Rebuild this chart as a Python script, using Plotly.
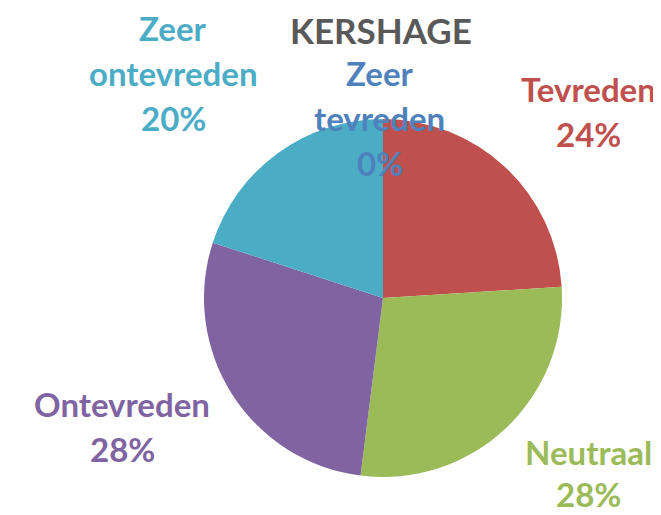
import plotly.graph_objects as go

# Data
title_text = "KERSHAGE"
labels = ["Zeer tevreden", "Tevreden", "Neutraal", "Ontevreden", "Zeer ontevreden"]
values = [0, 24, 28, 28, 20]
colors = ["#4F81BD", "#C0504D", "#9BBB59", "#8064A2", "#4BACC6"]

# Label placement (pixel centre of first text line) - layout only
W, H = 661, 515
label_pos = [(372, 65), (580, 81), (580, 444), (114, 396), (165, 20)]
line_gap = 45

fig = go.Figure(go.Pie(
    labels=labels,
    values=values,
    marker=dict(colors=colors, line=dict(width=0)),
    sort=False,
    direction="clockwise",
    rotation=0,
    textinfo="none",
    hoverinfo="label+percent",
    showlegend=False,
    domain=dict(x=[(375 - 179) / W, (375 + 179) / W],
                y=[(H - 469) / H, (H - 111) / H]),
))

annotations = []
for lab, val, col, (px, py) in zip(labels, values, colors, label_pos):
    lines = lab.split(" ") + [f"{val}%"]
    gap = line_gap if py < 440 else line_gap - 3
    for i, ln in enumerate(lines):
        annotations.append(dict(
            text=ln, x=px / W, y=1 - (py + i * gap) / H,
            xref="paper", yref="paper", xanchor="center", yanchor="middle",
            showarrow=False,
            font=dict(family="Lato", size=33, weight="bold", color=col),
        ))

annotations.append(dict(
    text=title_text, x=373 / W, y=1 - 22 / H, xref="paper", yref="paper",
    xanchor="center", yanchor="middle", showarrow=False,
    font=dict(family="Lato", size=35, weight="bold", color="#595959"),
))

fig.update_layout(
    width=W, height=H,
    margin=dict(l=0, r=0, t=0, b=0),
    paper_bgcolor="white", plot_bgcolor="white",
    annotations=annotations,
)

fig.write_html("out.html")
